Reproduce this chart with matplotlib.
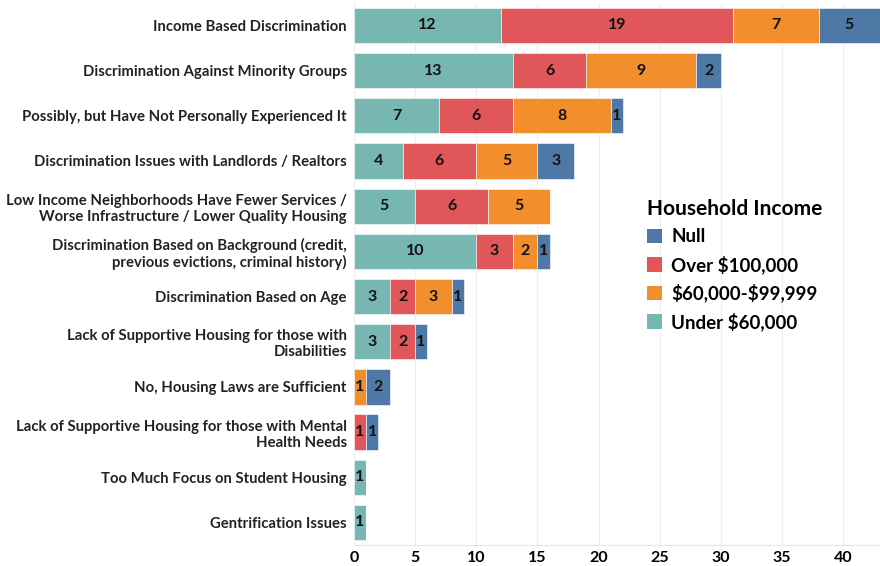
import numpy as np
import matplotlib.pyplot as plt
from matplotlib.patches import Patch

plt.rcParams['font.family'] = ['Lato', 'DejaVu Sans']

categories = [
    "Income Based Discrimination",
    "Discrimination Against Minority Groups",
    "Possibly, but Have Not Personally Experienced It",
    "Discrimination Issues with Landlords / Realtors",
    "Low Income Neighborhoods Have Fewer Services /\nWorse Infrastructure / Lower Quality Housing",
    "Discrimination Based on Background (credit,\nprevious evictions, criminal history)",
    "Discrimination Based on Age",
    "Lack of Supportive Housing for those with\nDisabilities",
    "No, Housing Laws are Sufficient",
    "Lack of Supportive Housing for those with Mental\nHealth Needs",
    "Too Much Focus on Student Housing",
    "Gentrification Issues",
]

# stacking order: left -> right
under_60k = [12, 13, 7, 4, 5, 10, 3, 3, 0, 0, 1, 1]
over_100k = [19, 6, 6, 6, 6, 3, 2, 2, 0, 1, 0, 0]
mid_60_99k = [7, 9, 8, 5, 5, 2, 3, 0, 1, 0, 0, 0]
null_inc = [5, 2, 1, 3, 0, 1, 1, 1, 2, 1, 0, 0]

series = [
    (r"Under \$60,000", under_60k, "#76b7b2"),
    (r"Over \$100,000", over_100k, "#e15759"),
    (r"\$60,000-\$99,999", mid_60_99k, "#f28e2b"),
    ("Null", null_inc, "#4e79a7"),
]
legend_order = [3, 1, 2, 0]

fig = plt.figure(figsize=(8.8, 5.66), dpi=100)
ax = fig.add_axes([0.402, 0.037, 0.598, 0.958])

y = np.arange(len(categories))
left = np.zeros(len(categories))
for name, vals, color in series:
    vals = np.array(vals, dtype=float)
    ax.barh(y, vals, left=left, height=0.78, color=color,
            edgecolor='white', linewidth=0.4, zorder=2)
    for yi, (l, v) in enumerate(zip(left, vals)):
        if v > 0:
            ax.text(l + v / 2, yi, f"{int(v)}", ha='center', va='center',
                    fontsize=11.5, fontweight='bold', color='#111111', zorder=3)
    left += vals

ax.set_yticks(y)
ax.set_yticklabels(categories, fontsize=10.7, fontweight='bold', color='#222222')
ax.set_ylim(len(categories) - 0.5, -0.5)
ax.set_xlim(0, 43)
ax.set_xticks([0, 5, 10, 15, 20, 25, 30, 35, 40])
for lbl in ax.get_xticklabels():
    lbl.set_fontsize(11.5)
    lbl.set_fontweight('bold')
ax.tick_params(axis='both', length=0, pad=4)
ax.tick_params(axis='y', pad=5)

ax.grid(axis='x', color='#eeeeee', linewidth=0.8, zorder=0)
for s in ['top', 'right', 'left']:
    ax.spines[s].set_visible(False)
ax.spines['bottom'].set_color('#e6e6e6')

handles = [Patch(facecolor=series[i][2], label=series[i][0]) for i in legend_order]
leg = ax.legend(handles=handles, title="Household Income", loc='upper left',
                bbox_to_anchor=(0.525, 0.67), frameon=False,
                prop={'size': 13.5, 'weight': 'bold'},
                title_fontproperties={'size': 15, 'weight': 'bold'},
                handlelength=0.8, handleheight=0.8, handletextpad=0.5,
                labelspacing=0.52, alignment='left')

fig.savefig('out.png', dpi=100)
